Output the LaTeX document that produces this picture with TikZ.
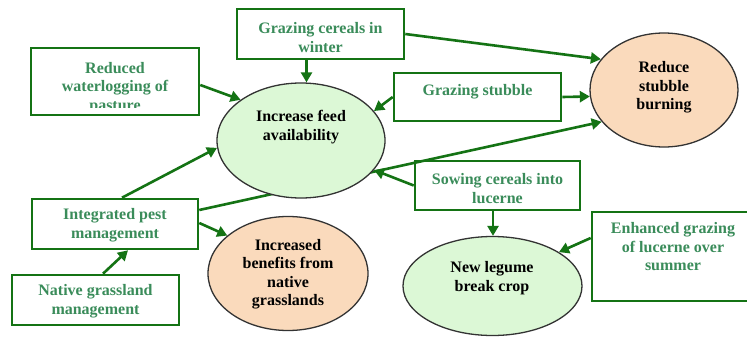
\documentclass[tikz,border=0pt]{standalone}
\usepackage{fontspec}
\setmainfont{Liberation Serif}
\usetikzlibrary{arrows.meta,shapes.geometric}
\definecolor{boxgreen}{RGB}{20,115,20}
\definecolor{txtgreen}{RGB}{58,140,90}
\definecolor{ellgreen}{RGB}{220,248,214}
\definecolor{ellorange}{RGB}{250,218,188}
\begin{document}
\begin{tikzpicture}[x=1pt,y=-1pt,
  box/.style={draw=boxgreen, line width=2.6pt, fill=white, inner sep=0pt},
  btext/.style={text=txtgreen, font=\fontsize{16}{18.5}\selectfont\bfseries, align=center, inner sep=0pt},
  ell/.style={ellipse, draw=black!80, line width=1.3pt, inner sep=0pt},
  etext/.style={text=black, font=\fontsize{16}{18.5}\selectfont\bfseries, align=center, inner sep=0pt},
  conn/.style={draw=boxgreen, line width=2.6pt, -{Triangle[length=10pt,width=11pt]}},
  ]
\clip (0,0) rectangle (747,337);
\fill[white] (0,0) rectangle (747,337);

% ellipses (geometry only, for the line passing behind)
\node[ell, draw=none, minimum width=168pt, minimum height=115pt] (feed) at (301,140.5) {};
\node[ell, draw=none, minimum width=148pt, minimum height=114pt] (stub) at (664,90) {};
\node[ell, draw=none, minimum width=160pt, minimum height=114pt] (bene) at (288,273.5) {};
\node[ell, draw=none, minimum width=179pt, minimum height=99pt] (leg) at (492.5,286) {};

% boxes
\node[box, minimum width=168pt, minimum height=67pt] (wl) at (115,81.5) {};
\node[box, minimum width=167pt, minimum height=50pt] (gc) at (320.5,34) {};
\node[box, minimum width=167pt, minimum height=48pt] (gs) at (477.5,97) {};
\node[box, minimum width=165pt, minimum height=49pt] (sc) at (497.5,185.5) {};
\node[box, minimum width=164pt, minimum height=89pt] (en) at (674,256.5) {};
\node[box, minimum width=166pt, minimum height=50pt] (ip) at (115,224) {};
\node[box, minimum width=167pt, minimum height=50pt] (ng) at (95.5,300) {};

% line from pest management to stubble burning, partly hidden by feed ellipse
\draw[conn] ([yshift=14pt]ip.east) -- (stub.207.3);

% ellipses drawn over it
\node[ell, fill=ellgreen, minimum width=168pt, minimum height=115pt] at (feed) {};
\node[ell, fill=ellorange, minimum width=148pt, minimum height=114pt] at (stub) {};
\node[ell, fill=ellorange, minimum width=160pt, minimum height=114pt] at (bene) {};
\node[ell, fill=ellgreen, minimum width=179pt, minimum height=99pt] at (leg) {};

\node[etext] (feedt) at (301,127) {Increase feed\\availability};
\node[etext] (stubt) at (664,87.5) {Reduce\\stubble\\burning};
\node[etext] (benet) at (288,274) {Increased\\benefits from\\native\\grasslands};
\node[etext] (legt) at (492,278) {New legume\\break crop};

% box texts
\begin{scope}
\clip (32,49) rectangle (198,107);
\node[btext] (wlt) at (115,88) {Reduced\\waterlogging of\\pasture};
\end{scope}
\node[btext] (gct) at (320.5,37.5) {Grazing cereals in\\winter};
\node[btext] (gst) at (477.5,92) {Grazing stubble};
\node[btext] (sct) at (497.5,188.5) {Sowing cereals into\\lucerne};
\node[btext] (ent) at (673,247) {Enhanced grazing\\of lucerne over\\summer};
\node[btext] (ipt) at (115,225) {Integrated pest\\management};
\node[btext] (ngt) at (95.5,301) {Native grassland\\management};

% connectors
\draw[conn] ([yshift=-3.5pt]wl.east) -- (feed.146.7);
\draw[conn] ([xshift=-14pt]gc.south) -- ([xshift=-14pt]gc.south |- feed.north);
\draw[conn] (gc.east) -- (stub.154.9);
\draw[conn] (gs.west) -- (feed.22.1);
\draw[conn] (gs.east) -- (stub.185.6);
\draw[conn] ([xshift=7pt]ip.north) -- (feed.185.5);
\draw[conn] (sc.west) -- (feed.-22.8);
\draw[conn] ([xshift=-4.5pt]sc.south) -- ([xshift=-4.5pt]sc.south |- leg.north);
\draw[conn] ([yshift=18.5pt]en.west) -- (leg.27.9);
\draw[conn] ([yshift=1pt]ip.east) -- (bene.148.8);
\draw[conn] ([xshift=7.5pt]ng.north) -- ([xshift=13pt]ip.south);
\end{tikzpicture}
\end{document}
